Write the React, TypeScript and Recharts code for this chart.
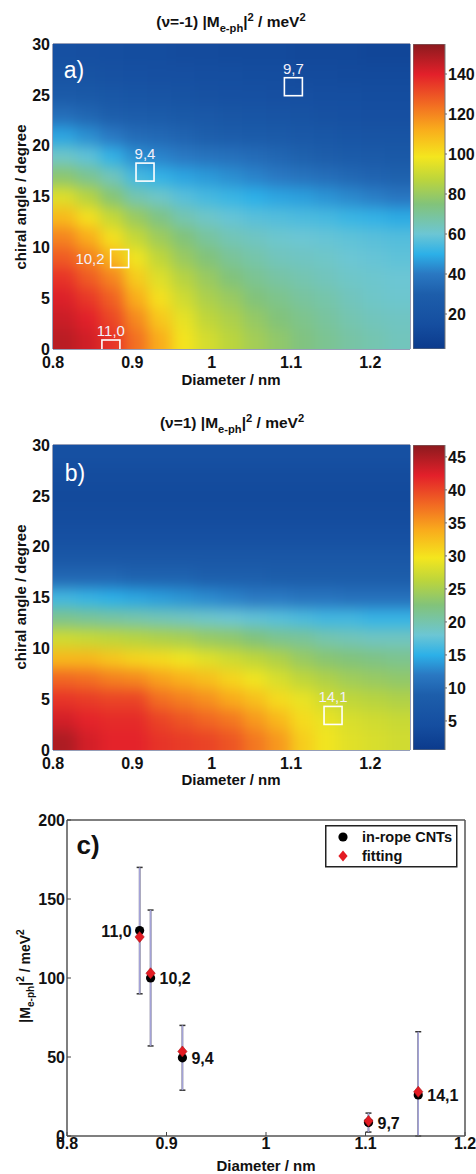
import React from 'react';
import { ScatterChart, Scatter, BarChart, Bar, XAxis, YAxis, ReferenceArea, ErrorBar } from 'recharts';

const FONT = '"Liberation Sans", Arial, sans-serif';

// cell centres of the two colour maps
const DIAMETERS = [0.815, 0.845, 0.875, 0.905, 0.935, 0.965, 0.995, 1.025, 1.055, 1.085, 1.115, 1.145, 1.175, 1.205, 1.235];
const ANGLES = [1, 3, 5, 7, 9, 11, 13, 15, 17, 19, 21, 23, 25, 27, 29];

// (nu=-1) |M|^2 in meV^2, one row per angle (bottom row first)
const MAP_NEG = [
  [147, 143, 136, 124, 112, 99, 92, 87, 82, 78, 74, 71, 68, 66, 64],
  [144, 140, 132, 119, 106, 96, 88, 84, 79, 75, 72, 69, 66, 64, 63],
  [141, 135, 127, 112, 100, 91, 84, 80, 75, 72, 69, 67, 64, 62, 61],
  [136, 128, 120, 105, 94, 86, 80, 75, 71, 68, 66, 64, 62, 61, 60],
  [128, 121, 110, 98, 88, 80, 75, 70, 67, 64, 63, 62, 60, 59, 58],
  [120, 112, 100, 89, 81, 75, 69, 65, 63, 61, 60, 59, 58, 57, 56],
  [109, 100, 89, 80, 73, 66, 62, 59, 57, 56, 55, 54, 52, 51, 49],
  [94, 86, 76, 66, 62, 57, 54, 52, 50, 48, 47, 45, 43, 41, 39],
  [77, 71, 64, 54, 51, 48, 46, 44, 42, 40, 38, 36, 34, 32, 31],
  [62, 58, 51, 44, 42, 40, 38, 37, 35, 33, 31, 29, 27, 26, 25],
  [48, 44, 40, 35, 34, 32, 30, 28, 27, 26, 24, 23, 21, 20, 20],
  [36, 33, 30, 28, 27, 25, 24, 22, 21, 20, 19, 18, 17, 16, 16],
  [26, 25, 23, 21, 20, 19, 18, 17, 17, 16, 16, 15, 15, 14, 14],
  [20, 19, 18, 17, 16, 16, 15, 15, 14, 14, 13, 13, 12, 12, 12],
  [17, 16, 15, 14, 14, 13, 13, 12, 12, 12, 11, 11, 11, 10, 10],
];

// (nu=1) |M|^2 in meV^2, one row per angle (bottom row first)
const MAP_POS = [
  [45, 43, 42, 42, 41, 40.5, 40, 39, 37, 35, 31.5, 29.5, 28.5, 28, 27.5],
  [43, 42, 41.5, 41.5, 40, 39, 38, 37, 35, 33, 30.5, 29, 28, 27.5, 27],
  [41, 40.5, 40, 40, 37.5, 36.5, 35.5, 34, 32.5, 30.5, 29, 27.5, 26.5, 26, 25.5],
  [38, 37.5, 36.5, 36, 34.5, 33.5, 32.5, 31, 29.5, 28, 26.5, 25.5, 24.5, 24, 23.5],
  [33, 33, 32, 31, 30.5, 29.5, 28.5, 27.5, 26.5, 25.5, 24, 23, 22.5, 22, 21.5],
  [27.5, 27, 26.5, 26, 25.5, 25, 24, 23.5, 22.5, 21.5, 21, 20, 19.5, 19, 19],
  [21.5, 21, 20.5, 20, 19.5, 19, 18.5, 18, 17.5, 17, 16.5, 16, 16, 15.5, 15.5],
  [16, 15.5, 15, 14.5, 14, 13.5, 13, 12.5, 12, 12, 11.5, 11.5, 11, 11, 11],
  [10, 10, 10, 9.5, 9.5, 9.5, 9, 9, 9, 8.5, 8.5, 8.5, 8.5, 8.5, 8.5],
  [7, 7, 7, 7, 7, 7, 7, 7, 7, 7, 7, 7, 7, 7, 7],
  [5, 5, 5, 5, 5, 5, 5, 5, 5, 5, 5, 5, 5, 5, 5],
  [4, 4, 4, 4, 4, 4, 4, 4, 4, 4, 4, 4, 4, 4, 4],
  [3.5, 3.5, 3.5, 3.5, 3.5, 3.5, 3.5, 3.5, 3.5, 3.5, 3.5, 3.5, 3.5, 3.5, 3.5],
  [4, 4, 4, 4, 4, 4, 4, 4, 4, 4, 4, 4, 4, 4, 4],
  [5, 5, 5, 5, 5, 5, 5, 5, 5, 5, 5, 5, 5, 5, 5],
];

const NEG_RANGE = [2.5, 155];
const POS_RANGE = [0.6, 46.8];
const NEG_TICKS = [20, 40, 60, 80, 100, 120, 140];
const POS_TICKS = [5, 10, 15, 20, 25, 30, 35, 40, 45];
const DIAM_TICKS = [0.8, 0.9, 1, 1.1, 1.2];
const ANGLE_TICKS = [0, 5, 10, 15, 20, 25, 30];

// measured tubes
const TUBES = ['11,0', '10,2', '9,4', '9,7', '14,1'];
const TUBE_DIAM = [0.873, 0.884, 0.916, 1.103, 1.153];
const TUBE_ANGLE = [0, 8.9, 17.4, 25.8, 3.4];
const NEG_BOXES = ['11,0', '10,2', '9,4', '9,7'];
const POS_BOXES = ['14,1'];

// panel c
const ROPE = [130, 100, 49.5, 8.5, 26];
const ROPE_ERR = [40, 43, 20.5, 6, 40];
const FIT = [126, 103, 53.5, 9.5, 28];
const C_Y_TICKS = [0, 50, 100, 150, 200];

const CMAP: [number, string][] = [
  [0.0, '#0b3a8c'],
  [0.08, '#154ea0'],
  [0.18, '#1d5eab'],
  [0.246, '#2a78c2'],
  [0.311, '#2cb0e8'],
  [0.377, '#6cc6d4'],
  [0.475, '#82c37a'],
  [0.555, '#bcd53c'],
  [0.63, '#f4e61e'],
  [0.72, '#f9ac1c'],
  [0.8, '#f26d22'],
  [0.9, '#e3202a'],
  [1.0, '#8b1a1e'],
];

const hex = (c: string) => [1, 3, 5].map((i) => parseInt(c.slice(i, i + 2), 16));

function colorAt(f: number) {
  const t = Math.max(0, Math.min(1, f));
  for (let i = 1; i < CMAP.length; i++) {
    const [o1, c1] = CMAP[i];
    if (t <= o1) {
      const [o0, c0] = CMAP[i - 1];
      const k = (t - o0) / (o1 - o0);
      const a = hex(c0);
      const b = hex(c1);
      return `rgb(${a.map((v, j) => Math.round(v + (b[j] - v) * k)).join(',')})`;
    }
  }
  return CMAP[CMAP.length - 1][1];
}

// map layout (inside each map chart)
const PLOT_L = 53;
const PLOT_R = 410;
const PLOT_T = 44;
const PLOT_B = 349;
const CELL_W = (PLOT_R - PLOT_L) / DIAMETERS.length;
const CELL_H = (PLOT_B - PLOT_T) / ANGLES.length;
const EXT = 30;

const tickFont = { fontSize: 16, fontWeight: 700, fill: '#111', fontFamily: FONT };

const heatShape = (range: number[]) => (p: any) => {
  const { cx, cy } = p;
  const e = p.payload ?? p;
  if (cx == null || cy == null) return <g />;
  let x0 = cx - CELL_W / 2 - 0.5;
  let x1 = cx + CELL_W / 2 + 0.5;
  let y0 = cy - CELL_H / 2 - 0.5;
  let y1 = cy + CELL_H / 2 + 0.5;
  if (e.c === 0) x0 -= EXT;
  if (e.c === DIAMETERS.length - 1) x1 += EXT;
  if (e.r === 0) y1 += EXT;
  if (e.r === ANGLES.length - 1) y0 -= EXT;
  return (
    <rect x={x0} y={y0} width={x1 - x0} height={y1 - y0}
      fill={colorAt((e.v - range[0]) / (range[1] - range[0]))} />
  );
};

const boxShape = (p: any) => {
  const { cx, cy } = p;
  const e = p.payload ?? p;
  const left = e.label === '10,2';
  return (
    <g>
      <rect x={cx - 9} y={cy - 9} width={18} height={18} fill="none" stroke="#fff" strokeWidth={1.6} />
      <text x={left ? cx - 15 : cx} y={left ? cy + 5 : cy - 13} textAnchor={left ? 'end' : 'middle'}
        fontSize={15} fontFamily={FONT} fill="#f2f0fa">{e.label}</text>
    </g>
  );
};

function HeatMap({ top, grid, range, boxes }: { top: number; grid: number[][]; range: number[]; boxes: string[] }) {
  const cells = grid.flatMap((row, r) => row.map((v, c) => ({ d: DIAMETERS[c], a: ANGLES[r], v, r, c })));
  const marks = TUBES.map((t, i) => ({ d: TUBE_DIAM[i], a: TUBE_ANGLE[i], label: t }))
    .filter((m) => boxes.includes(m.label));
  return (
    <div style={{ position: 'absolute', left: 0, top }}>
      <ScatterChart width={476} height={400} margin={{ top: PLOT_T, right: 476 - PLOT_R, bottom: 21, left: 23 }}>
        <XAxis type="number" dataKey="d" domain={[0.8, 1.25]} ticks={DIAM_TICKS} allowDataOverflow interval={0}
          height={30} tickLine={false} tickSize={0} tickMargin={8} axisLine={false} tick={tickFont} />
        <YAxis type="number" dataKey="a" domain={[0, 30]} ticks={ANGLE_TICKS} allowDataOverflow interval={0}
          width={30} tickLine={false} tickSize={0} tickMargin={3} axisLine={false} tick={tickFont} />
        <Scatter className="heat" data={cells} shape={heatShape(range)} isAnimationActive={false} />
        <ReferenceArea x1={0.8} x2={1.25} y1={0} y2={30} fill="none" stroke="#2d3f73" strokeWidth={1} />
        <Scatter data={marks} shape={boxShape} isAnimationActive={false} />
      </ScatterChart>
    </div>
  );
}

function ColorBar({ top, range, ticks }: { top: number; range: number[]; ticks: number[] }) {
  const data = [{ k: 'bar', span: range }];
  return (
    <div style={{ position: 'absolute', left: 413, top }}>
      <BarChart width={63} height={400} data={data} barCategoryGap={0}
        margin={{ top: PLOT_T, right: 0, bottom: 400 - PLOT_B, left: 0 }}>
        <XAxis dataKey="k" hide />
        <YAxis type="number" orientation="right" domain={range} ticks={ticks} allowDataOverflow
          interval={0} width={31} tickSize={2} tickMargin={1} axisLine={false} tickLine={{ stroke: '#666' }} tick={tickFont} />
        <Bar dataKey="span" fill="url(#cmapGrad)" stroke="#777" strokeWidth={1} isAnimationActive={false} />
      </BarChart>
    </div>
  );
}

const ropeShape = (p: any) => {
  const { cx, cy } = p;
  const e = p.payload ?? p;
  const left = e.label === '11,0';
  return (
    <g>
      <circle cx={cx} cy={cy} r={4.6} fill="#000" />
      <text x={left ? cx - 8 : cx + 9} y={cy + 6} textAnchor={left ? 'end' : 'start'}
        fontSize={16} fontWeight={700} fontFamily={FONT} fill="#111">{e.label}</text>
    </g>
  );
};

const fitShape = (p: any) => {
  const { cx, cy } = p;
  return (
    <polygon points={`${cx},${cy - 5.5} ${cx + 4.6},${cy} ${cx},${cy + 5.5} ${cx - 4.6},${cy}`}
      fill="#e31b23" stroke="#a81015" strokeWidth={0.6} />
  );
};

// the lower whisker stops at the axis (y = 0), as in the figure
const errRange = (e: any) => [Math.min(e.err, e.m), e.err];

function PanelC() {
  const rope = TUBES.map((t, i) => ({ d: TUBE_DIAM[i], m: ROPE[i], err: ROPE_ERR[i], label: t }));
  const fit = TUBES.map((t, i) => ({ d: TUBE_DIAM[i], m: FIT[i] }));
  const axisLine = { stroke: '#555', strokeWidth: 1.5 };
  const tickLine = { stroke: '#444', strokeWidth: 1 };
  return (
    <div className="panelc" style={{ position: 'absolute', left: 0, top: 800 }}>
      <ScatterChart width={476} height={374} margin={{ top: 19, right: 10, bottom: 8, left: 17 }}>
        <XAxis xAxisId="b" type="number" dataKey="d" domain={[0.8, 1.2]} ticks={DIAM_TICKS} allowDataOverflow interval={0}
          height={30} tickSize={-4} tickMargin={6} axisLine={axisLine} tickLine={tickLine} tick={tickFont} />
        <XAxis xAxisId="t" orientation="top" type="number" dataKey="d" domain={[0.8, 1.2]} ticks={DIAM_TICKS}
          allowDataOverflow interval={0} height={1} tickSize={-4} axisLine={axisLine} tickLine={tickLine} tick={false} />
        <YAxis yAxisId="l" type="number" dataKey="m" domain={[0, 200]} ticks={C_Y_TICKS} allowDataOverflow interval={0}
          width={50} tickSize={-4} tickMargin={6} axisLine={axisLine} tickLine={tickLine} tick={tickFont} />
        <YAxis yAxisId="r" orientation="right" type="number" dataKey="m" domain={[0, 200]} ticks={C_Y_TICKS}
          allowDataOverflow interval={0} width={1} tickSize={-4} axisLine={axisLine} tickLine={tickLine} tick={false} />
        <Scatter xAxisId="b" yAxisId="l" data={rope} shape={ropeShape} isAnimationActive={false}>
          <ErrorBar dataKey={errRange} direction="y" width={3} stroke="#333" strokeWidth={1.5} isAnimationActive={false} />
          <ErrorBar dataKey={errRange} direction="y" width={0} stroke="#a3a2d8" strokeWidth={1.5} isAnimationActive={false} />
        </Scatter>
        <Scatter xAxisId="b" yAxisId="l" data={fit} shape={fitShape} isAnimationActive={false} />
      </ScatterChart>
    </div>
  );
}

function Txt({ x, y, size, children, weight = 700, color = '#111', rotate = false }: any) {
  return (
    <div style={{
      position: 'absolute', left: x, top: y, fontSize: size, fontWeight: weight, color, lineHeight: 1,
      whiteSpace: 'nowrap', fontFamily: FONT,
      transform: `translate(-50%, -50%)${rotate ? ' rotate(-90deg)' : ''}`,
    }}>{children}</div>
  );
}

function MLabel({ prefix, size }: { prefix: string; size: number }) {
  const small = { fontSize: size * 0.72, position: 'relative' as const, lineHeight: 1 };
  return (
    <span>
      {prefix}|M<span style={{ ...small, top: size * 0.32 }}>e-ph</span>|
      <span style={{ ...small, top: -size * 0.42 }}>2</span> / meV
      <span style={{ ...small, top: -size * 0.42 }}>2</span>
    </span>
  );
}

export default function App() {
  return (
    <div style={{ position: 'absolute', left: 0, top: 0, width: 476, height: 1174, background: '#fff', overflow: 'hidden', fontFamily: FONT }}>
      <style>{'.heat{filter:url(#heatBlur);clip-path:url(#heatClip);}'}</style>
      <svg width={0} height={0} style={{ position: 'absolute' }}>
        <defs>
          <linearGradient id="cmapGrad" x1="0" y1="1" x2="0" y2="0">
            {CMAP.map(([o, c]) => <stop key={o} offset={o} stopColor={c} />)}
          </linearGradient>
          <filter id="heatBlur" filterUnits="userSpaceOnUse" x={0} y={0} width={476} height={400}
            colorInterpolationFilters="sRGB">
            <feGaussianBlur stdDeviation={7} />
          </filter>
          <clipPath id="heatClip" clipPathUnits="userSpaceOnUse">
            <rect x={PLOT_L} y={PLOT_T} width={PLOT_R - PLOT_L} height={PLOT_B - PLOT_T} />
          </clipPath>
        </defs>
      </svg>

      <Txt x={231} y={22} size={15.5}><MLabel prefix="(ν=-1) " size={15.5} /></Txt>
      <HeatMap top={0} grid={MAP_NEG} range={NEG_RANGE} boxes={NEG_BOXES} />
      <ColorBar top={0} range={NEG_RANGE} ticks={NEG_TICKS} />
      <Txt x={74} y={70} size={23} weight={400} color="#fff">a)</Txt>
      <Txt x={20} y={197} size={15} rotate>chiral angle / degree</Txt>
      <Txt x={231} y={379} size={15}>Diameter / nm</Txt>

      <Txt x={232} y={423} size={15.5}><MLabel prefix="(ν=1) " size={15.5} /></Txt>
      <HeatMap top={401} grid={MAP_POS} range={POS_RANGE} boxes={POS_BOXES} />
      <ColorBar top={401} range={POS_RANGE} ticks={POS_TICKS} />
      <Txt x={75} y={473} size={23} weight={400} color="#fff">b)</Txt>
      <Txt x={20} y={597} size={15} rotate>chiral angle / degree</Txt>
      <Txt x={231} y={779} size={15}>Diameter / nm</Txt>

      <PanelC />
      <Txt x={88} y={845} size={26}>c)</Txt>
      <Txt x={25} y={976} size={14} rotate><MLabel prefix="" size={14} /></Txt>
      <Txt x={266} y={1165} size={15}>Diameter / nm</Txt>
      <svg width={133} height={43} style={{ position: 'absolute', left: 325, top: 825 }}>
        <rect x={0.75} y={0.75} width={131} height={41} fill="#fff" stroke="#222" strokeWidth={1.5} />
        <circle cx={18} cy={12} r={4.6} fill="#000" />
        <text x={37} y={17} fontSize={14.5} fontWeight={700} fontFamily={FONT} fill="#111">in-rope CNTs</text>
        <polygon points="18,25.5 22.6,31 18,36.5 13.4,31" fill="#e31b23" />
        <text x={37} y={36} fontSize={14.5} fontWeight={700} fontFamily={FONT} fill="#111">fitting</text>
      </svg>
    </div>
  );
}
